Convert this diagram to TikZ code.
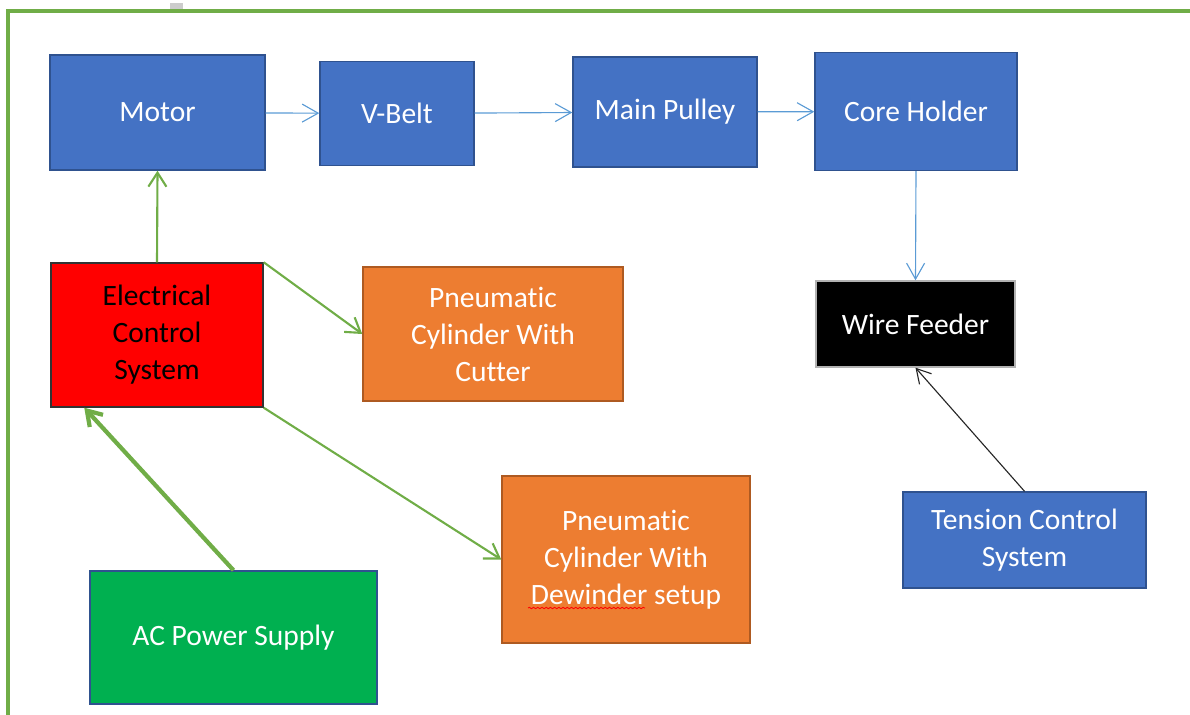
\documentclass[tikz,border=0pt]{standalone}
\usepackage{fontspec}
\setmainfont{Carlito}[Ligatures=NoCommon]
\usepackage{xcolor}
\usetikzlibrary{shapes,arrows.meta,positioning,calc,decorations.pathmorphing}

\definecolor{boxblue}{HTML}{4472C4}
\definecolor{edgeblue}{HTML}{2F528F}
\definecolor{boxorange}{HTML}{ED7D31}
\definecolor{edgeorange}{HTML}{AE5A21}
\definecolor{boxgreen}{HTML}{00B050}
\definecolor{linkgreen}{HTML}{70AD47}
\definecolor{linkblue}{HTML}{5B9BD5}

\tikzset{
    block/.style={draw, line width=1pt, align=center, inner sep=2pt,
        font=\fontsize{21}{26.3}\selectfont},
    blueblock/.style={block, fill=boxblue, draw=edgeblue, text=white},
    orangeblock/.style={block, fill=boxorange, draw=edgeorange, text=white},
    bluelink/.style={-{Straight Barb[length=4mm, width=4.5mm]}, linkblue, line width=0.8pt},
    greenlink/.style={-{Straight Barb[length=3.5mm, width=4.5mm]}, linkgreen, line width=1.5pt}
}

\begin{document}
\begin{tikzpicture}[x=0.025cm, y=-0.025cm]
    \useasboundingbox (0,0) rectangle (1190,715);

    % Page frame
    \fill[gray!40] (170,3) rectangle (183,11);
    \draw[linkgreen, line width=2.2pt] (8,715) -- (8,11) -- (1190,11);

    % Drive chain
    \node[blueblock, minimum width=5.375cm, minimum height=2.875cm] (motor) at (157.5,112.5) {Motor};
    \node[blueblock, minimum width=3.85cm, minimum height=2.6cm] (vbelt) at (397,113.5) {V-Belt};
    \node[blueblock, minimum width=4.6cm, minimum height=2.75cm] (pulley) at (665,112) {Main Pulley};
    \node[blueblock, minimum width=5.05cm, minimum height=2.95cm] (core) at (916,111.5) {Core Holder};

    % Wire path
    \node[block, fill=black, draw=gray!60, text=white, minimum width=4.975cm, minimum height=2.15cm] (feeder) at (915.5,324) {Wire Feeder};
    \node[blueblock, minimum width=6.075cm, minimum height=2.4cm] (tension) at (1024.5,540) {Tension Control\\System};

    % Control side
    \node[block, fill=red, draw=black!80, text=black, minimum width=5.3cm, minimum height=3.6cm] (ecs) at (157,335) {Electrical\\Control\\System};
    \node[orangeblock, minimum width=6.5cm, minimum height=3.35cm] (cutter) at (493,334) {Pneumatic\\Cylinder With\\Cutter};
    \node[orangeblock, minimum width=6.2cm, minimum height=4.175cm] (dewinder) at (626,559.5) {Pneumatic\\Cylinder With\\Dewinder setup};
    \node[block, fill=boxgreen, draw=edgeblue, text=white, minimum width=7.175cm, minimum height=3.325cm] (ac) at (233.5,637.5) {AC Power Supply};

    % Spelling mark under "Dewinder"
    \draw[red, line width=0.6pt, decorate, decoration={snake, amplitude=0.5pt, segment length=3pt}] (528,608) -- (645,608);

    % Blue connectors
    \foreach \a/\b in {motor/vbelt, vbelt/pulley, pulley/core}
        \draw[bluelink] (\a) -- (\b);
    \draw[bluelink] (core.south) -- (feeder.north);

    % Tension feedback
    \draw[-{Straight Barb[length=3.5mm, width=4mm]}, black!85, line width=0.8pt] (tension.north) -- (feeder.south);

    % Green connectors
    \draw[greenlink] (ecs.north) -- (motor.south);
    \draw[greenlink] (ecs.north east) -- (cutter.west);
    \draw[greenlink] (ecs.south east) -- (dewinder.west);
    \draw[greenlink, line width=3pt] (ac.north) -- (ecs.225);

\end{tikzpicture}
\end{document}
